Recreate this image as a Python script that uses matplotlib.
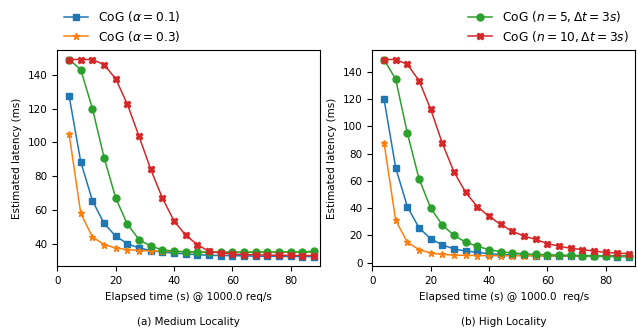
import matplotlib
matplotlib.use('Agg')
import matplotlib.pyplot as plt

plt.rcParams['font.size'] = 7.5

# ── data ──────────────────────────────────────────────────────────────
t = [4, 8, 12, 16, 20, 24, 28, 32, 36, 40, 44, 48, 52, 56, 60, 64, 68, 72, 76, 80, 84, 88]

med_a01 = [127.5, 88.5, 65.5, 52, 44.5, 40, 37.5, 36, 35, 34.5, 34, 33.5,
           33.2, 33, 33, 32.8, 32.7, 32.6, 32.5, 32.5, 32.4, 32.4]
med_a03 = [105, 58, 44, 39.5, 37.5, 36.5, 36, 35.8, 35.5, 35.5, 35.3, 35.2,
           35.2, 35.1, 35, 35, 35, 35, 35, 35, 35, 35]
med_n5 = [149, 143, 120, 91, 67, 51.5, 42.5, 38.5, 36.5, 35.5, 35.3, 35,
          35, 35, 35, 35, 35, 35, 35.2, 35.2, 35.2, 35.5]
med_n10 = [149, 149, 149, 146, 137.5, 122.5, 103.5, 84, 67, 53.5, 45, 39.5,
           35.5, 34.5, 34, 33.5, 33.5, 33.3, 33.2, 33.1, 33, 33]

high_a01 = [120, 69.5, 41, 25.5, 17.5, 13, 10, 8.5, 7.5, 6.5, 6, 5.5,
            5.3, 5, 5, 4.8, 4.7, 4.6, 4.5, 4.5, 4.4, 4.4]
high_a03 = [88, 31, 15, 9.5, 7, 6, 5.5, 5.3, 5.2, 5.1, 5, 5,
            5, 5, 5, 5, 5, 5, 5, 5, 5, 5]
high_n5 = [149, 134.5, 95, 61.5, 40, 27.5, 20, 15, 12, 9.5, 8, 7,
           6.5, 6, 5.8, 5.5, 5.3, 5.2, 5.1, 5, 5, 5]
high_n10 = [149, 149, 145.5, 133.5, 112.5, 87.5, 66.5, 51.5, 41, 34, 28, 23,
            19.5, 17, 14, 12, 10.5, 9.5, 8.5, 7.5, 7, 6.5]

labels = [r'CoG ($\alpha = 0.1$)', r'CoG ($\alpha = 0.3$)',
          r'CoG ($n = 5, \Delta t = 3s$)', r'CoG ($n = 10, \Delta t = 3s$)']
colors = ['#1f77b4', '#ff7f0e', '#2ca02c', '#d62728']
markers = ['s', '*', 'o', 'X']

fig, axes = plt.subplots(1, 2, figsize=(6.38, 3.31), dpi=100)
fig.subplots_adjust(left=0.09, right=0.995, top=0.85, bottom=0.195, wspace=0.2)

panels = [
    (axes[0], [med_a01, med_a03, med_n5, med_n10], 'Elapsed time (s) @ 1000.0 req/s',
     '(a) Medium Locality'),
    (axes[1], [high_a01, high_a03, high_n5, high_n10], 'Elapsed time (s) @ 1000.0  req/s',
     '(b) High Locality'),
]

handles = []
for ax, series, xlabel, caption in panels:
    hs = []
    for ys, lab, c, m in zip(series, labels, colors, markers):
        h, = ax.plot(t, ys, color=c, marker=m, markersize=5, lw=1.1, label=lab)
        hs.append(h)
    handles.append(hs)
    ax.set_xlim(0, 90)
    ax.set_xticks([0, 20, 40, 60, 80])
    ax.set_xlabel(xlabel)
    ax.set_ylabel('Estimated latency (ms)')
    ax.text(0.5, -0.258, caption, transform=ax.transAxes, ha='center', va='center')

axes[0].legend(handles=handles[0][:2], loc='lower left', bbox_to_anchor=(0.0, 1.0),
               frameon=False, borderaxespad=0.1, handlelength=2.0, fontsize=8.8,
               labelspacing=0.35)
axes[1].legend(handles=handles[1][2:], loc='lower right', bbox_to_anchor=(1.0, 1.0),
               frameon=False, borderaxespad=0.1, handlelength=2.0, fontsize=8.8,
               labelspacing=0.35)

fig.savefig('out.png', dpi=100)
